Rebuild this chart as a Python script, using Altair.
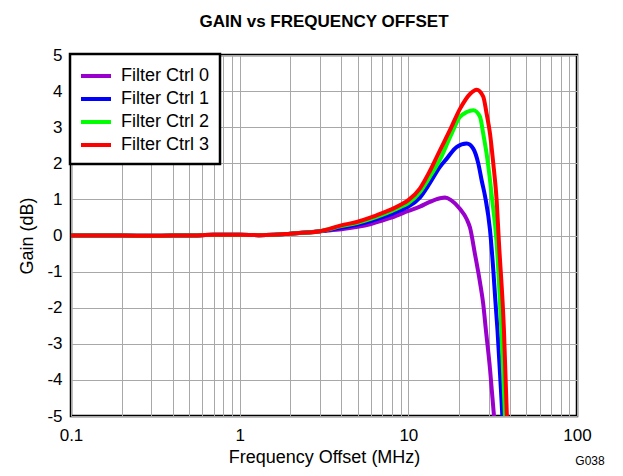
import altair as alt
import pandas as pd

series_names = ["Filter Ctrl 0", "Filter Ctrl 1", "Filter Ctrl 2", "Filter Ctrl 3"]
series_colors = ["#9900CC", "#0000FF", "#00FF00", "#FF0000"]

low_f = [0.1, 0.15, 0.2, 0.3, 0.4, 0.5, 0.7, 1.0, 1.3, 1.6, 2.0, 2.5, 3.0]
low_g = [0.0, 0.0, 0.0, -0.01, 0.0, 0.0, 0.02, 0.02, 0.01, 0.02, 0.05, 0.08, 0.12]

f0 = [4.0, 5.0, 6.0, 7.0, 8.0, 10.0, 11.7, 13.4, 15.4, 16.5, 17.9, 20.2, 22.2, 23.2, 24.8, 26.6, 27.8, 28.8, 30.5, 32.2, 32.8]
g0 = [0.17, 0.24, 0.32, 0.41, 0.5, 0.68, 0.8, 0.93, 1.03, 1.05, 0.98, 0.74, 0.45, 0.22, -0.5, -1.3, -1.9, -2.6, -3.7, -5.0, -5.5]

f1 = [4.0, 5.0, 6.0, 7.0, 8.0, 9.0, 10.0, 11.7, 13.4, 15.4, 16.9, 19.3, 22.2, 24.3, 26.0, 27.2, 28.6, 30.5, 31.9, 32.8, 33.8, 36.1, 36.6]
g1 = [0.22, 0.3, 0.4, 0.5, 0.6, 0.7, 0.8, 1.05, 1.45, 1.9, 2.13, 2.45, 2.55, 2.4, 1.99, 1.53, 1.05, 0.15, -0.96, -1.8, -2.64, -5.0, -5.5]

f2 = [4.0, 5.0, 6.0, 7.0, 8.0, 9.0, 10.0, 11.7, 13.4, 15.4, 17.7, 20.2, 22.2, 24.3, 26.6, 27.8, 29.1, 30.5, 31.4, 33.3, 35.6, 37.4, 37.8]
g2 = [0.26, 0.35, 0.46, 0.57, 0.68, 0.79, 0.9, 1.2, 1.62, 2.1, 2.73, 3.28, 3.42, 3.47, 3.29, 2.82, 2.27, 1.53, 1.0, -0.14, -2.64, -5.0, -5.5]

f3 = [4.0, 5.0, 6.0, 7.0, 8.0, 9.0, 10.0, 11.7, 13.4, 15.4, 17.7, 20.2, 23.2, 25.4, 27.8, 29.1, 30.5, 31.9, 33.4, 34.4, 36.9, 38.4, 38.8]
g3 = [0.28, 0.38, 0.5, 0.62, 0.73, 0.85, 0.98, 1.3, 1.78, 2.36, 2.93, 3.5, 3.92, 4.04, 3.85, 3.38, 2.82, 1.99, 0.97, -0.14, -2.64, -5.0, -5.5]

x_tick_values = [0.1, 0.2, 0.3, 0.4, 0.5, 0.6, 0.7, 0.8, 0.9,
                 1, 2, 3, 4, 5, 6, 7, 8, 9,
                 10, 20, 30, 40, 50, 60, 70, 80, 90, 100]
y_tick_values = [-5, -4, -3, -2, -1, 0, 1, 2, 3, 4, 5]

rows = []
for name, fs, gs in zip(series_names, [f0, f1, f2, f3], [g0, g1, g2, g3]):
    allf = low_f + fs
    allg = low_g + gs
    for i, (f, g) in enumerate(zip(allf, allg)):
        rows.append({"series": name, "freq": f, "gain": g, "idx": i})
df = pd.DataFrame(rows)

FONT = "Liberation Sans"

lines = alt.Chart(df).mark_line(
    strokeWidth=4, interpolate="monotone", clip=True
).encode(
    x=alt.X("freq:Q",
            scale=alt.Scale(type="log", domain=[0.1, 100], nice=False),
            axis=alt.Axis(values=x_tick_values, format="~g",
                          labelExpr="(datum.value == 0.1 || datum.value == 1 || datum.value == 10 || datum.value == 100) ? datum.label : ''",
                          title="Frequency Offset (MHz)", ticks=False, labelFlush=False,
                          labelPadding=11, titlePadding=5, domain=False)),
    y=alt.Y("gain:Q",
            scale=alt.Scale(domain=[-5, 5], nice=False),
            axis=alt.Axis(values=y_tick_values, labelExpr="toString(datum.value)",
                          title="Gain (dB)", labelFlush=False,
                          ticks=False, labelPadding=9, titlePadding=10, domain=False)),
    color=alt.Color("series:N",
                    scale=alt.Scale(domain=series_names, range=series_colors),
                    legend=alt.Legend(title=None, orient="none", legendX=-1, legendY=-1,
                                      symbolType="M-1.5,0H1.5", symbolSize=400,
                                      symbolStrokeWidth=4, symbolOffset=4,
                                      labelFontSize=18, labelFont=FONT, labelOffset=13,
                                      rowPadding=2, padding=10,
                                      strokeColor="black", fillColor="white",
                                      labelLimit=250)),
    order="idx:Q",
)

note = alt.Chart(pd.DataFrame({"t": ["G038"]})).mark_text(
    font=FONT, fontSize=12, align="center", baseline="middle", color="black"
).encode(text="t:N", x=alt.value(519), y=alt.value(406))

chart = alt.layer(lines, note).properties(
    width=506, height=361,
    title=alt.TitleParams("GAIN vs FREQUENCY OFFSET", font=FONT, fontSize=17,
                          fontWeight="bold", anchor="middle", offset=15),
    autosize=alt.AutoSizeParams(type="none"),
    padding={"left": 63, "top": 47, "right": 36, "bottom": 52},
).configure_view(
    stroke="black", strokeWidth=2.5
).configure_axis(
    labelFont=FONT, labelFontSize=17, titleFont=FONT, titleFontSize=18,
    titleFontWeight="normal", labelColor="black", titleColor="black",
    gridColor="#A8A8A8", gridWidth=1, gridOpacity=1
).configure_legend(
    strokeWidth=2.5
)

chart.save("out.html", embed_options={"renderer": "svg", "actions": False})
